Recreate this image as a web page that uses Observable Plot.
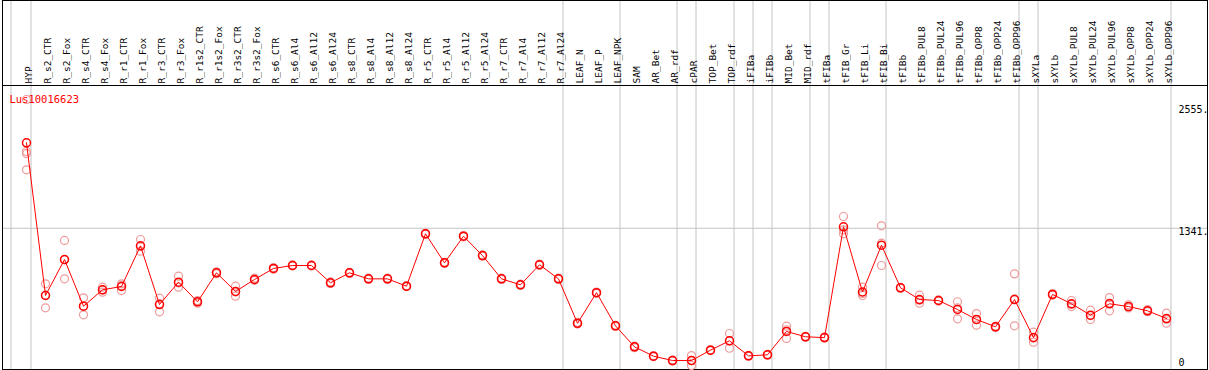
<!DOCTYPE html>
<html><head><meta charset="utf-8">
<script src="https://cdn.jsdelivr.net/npm/d3@7"></script>
<script src="https://cdn.jsdelivr.net/npm/@observablehq/plot@0.6"></script>
<style>
html,body{margin:0;padding:0;background:#fff;}
#chart svg{display:block;}
</style></head><body><div id="chart"></div>
<script>
const geneId = "Lus10016623";
const categories = ["HYP","R_s2_CTR","R_s2_Fox","R_s4_CTR","R_s4_Fox","R_r1_CTR","R_r1_Fox","R_r3_CTR","R_r3_Fox","R_r1s2_CTR","R_r1s2_Fox","R_r3s2_CTR","R_r3s2_Fox","R_s6_CTR","R_s6_Al4","R_s6_Al12","R_s6_Al24","R_s8_CTR","R_s8_Al4","R_s8_Al12","R_s8_Al24","R_r5_CTR","R_r5_Al4","R_r5_Al12","R_r5_Al24","R_r7_CTR","R_r7_Al4","R_r7_Al12","R_r7_Al24","LEAF_N","LEAF_P","LEAF_NPK","SAM","AR_Bet","AR_rdf","cPAR","TOP_Bet","TOP_rdf","iFIBa","iFIBb","MID_Bet","MID_rdf","tFIBa","tFIB_Gr","tFIB_Li","tFIB_Bi","tFIBb","tFIBb_PUL8","tFIBb_PUL24","tFIBb_PUL96","tFIBb_OPP8","tFIBb_OPP24","tFIBb_OPP96","sXYLa","sXYLb","sXYLb_PUL8","sXYLb_PUL24","sXYLb_PUL96","sXYLb_OPP8","sXYLb_OPP24","sXYLb_OPP96"];
const means = [2147,707,1046,606,761,792,1175,622,833,647,921,745,858,962,990,990,827,921,864,864,795,1289,1015,1266,1084,864,808,997,864,445,734,421,223,135,94,94,192,280,138,148,368,318,310,1355,740,1182,780,669,660,575,481,412,669,311,717,629,522,629,603,563,490];
const replicates = [
  [2555,2065,2045,1892],[817,591,712],[1226,864,1046],[685,525,606],[786,738,760],[817,754,800],[1235,1125,1170],[682,553,630],[889,786,825],[660,635,647],
  [930,912,921],[795,701,740],[870,850,858],[970,955,962],[995,985,990],[995,985,990],[835,820,827],[925,915,921],[870,858,864],[870,858,864],
  [800,790,795],[1295,1283,1289],[1020,1010,1015],[1272,1260,1266],[1090,1078,1084],[870,858,864],[814,802,808],[1003,991,997],[870,858,864],[455,440,440],
  [740,728,734],[426,416,421],[230,215,223],[140,130,135],[98,90,94],[141,47,94],[196,188,192],[349,210,280],[142,134,138],[152,144,148],
  [418,302,384],[322,314,318],[305,315,310],[1452,1289,1325],[786,707,727],[1364,1200,990],[785,775,780],[710,635,662],[665,655,660],[648,487,590],
  [537,427,479],[418,405,412],[911,421,675],[361,267,305],[725,710,717],[660,603,624],[569,481,516],[688,563,636],[620,590,600],[575,555,560],
  [540,446,484]
];
const groupEnds = ["HYP","R_r7_Al24","LEAF_NPK","AR_rdf","cPAR","TOP_rdf","iFIBa","iFIBb","MID_rdf","tFIBa","tFIB_Bi","tFIBb_OPP96","sXYLa","sXYLb_OPP96"];
const yTicks = [0, 1341, 2555];
const yTickLabels = ["0", "1341.", "2555."];

const meanData = categories.map((c, i) => ({cat: c, value: means[i]}));
const repData = categories.flatMap((c, i) => replicates[i].map(v => ({cat: c, value: v})));

const labelDy = [-8, 4, 10];
const grid = "#c4c4c4";

const plot = Plot.plot({
  width: 1209, height: 370,
  marginTop: 0, marginBottom: 1, marginLeft: 2, marginRight: 2,
  style: {fontFamily: "DejaVu Sans Mono", fontSize: "10px", background: "#fff"},
  x: {type: "point", domain: categories, range: [26, 1166], padding: 0, axis: null},
  y: {domain: [0, 2555], range: [370, 99], axis: null},
  marks: [
    Plot.ruleX(groupEnds, {x: d => d, dx: 4.5, stroke: grid}),
    Plot.ruleX([categories[0]], {x: d => d, dx: -15.5, stroke: grid}),
    Plot.ruleY([yTicks[1]], {y: d => d, stroke: grid}),
    Plot.frame({stroke: "#000"}),
    Plot.frame({anchor: "top", dy: 85, stroke: "#000"}),
    Plot.text(categories, {x: d => d, frameAnchor: "top", dx: -1, dy: 83, rotate: -90, textAnchor: "start", fill: "#000", fontSize: 9.5}),
    ...yTicks.map((t, i) => Plot.text([t], {y: d => d, text: () => yTickLabels[i], frameAnchor: "right", dx: -29, dy: labelDy[i], textAnchor: "start", fill: "#000"})),
    Plot.dot(repData, {x: "cat", y: "value", r: 4, stroke: "#ee9a9a", strokeWidth: 1.2, fill: "none"}),
    Plot.text([geneId], {text: d => d, frameAnchor: "top-left", dx: 7, dy: 95, textAnchor: "start", fill: "#ff0000", fontSize: 10.5}),
    Plot.line(meanData, {x: "cat", y: "value", stroke: "#ff0000", strokeWidth: 1}),
    Plot.dot(meanData, {x: "cat", y: "value", r: 4, stroke: "#ff0000", strokeWidth: 1.5, fill: "none"})
  ]
});
document.getElementById("chart").appendChild(plot);
</script>
</body></html>
